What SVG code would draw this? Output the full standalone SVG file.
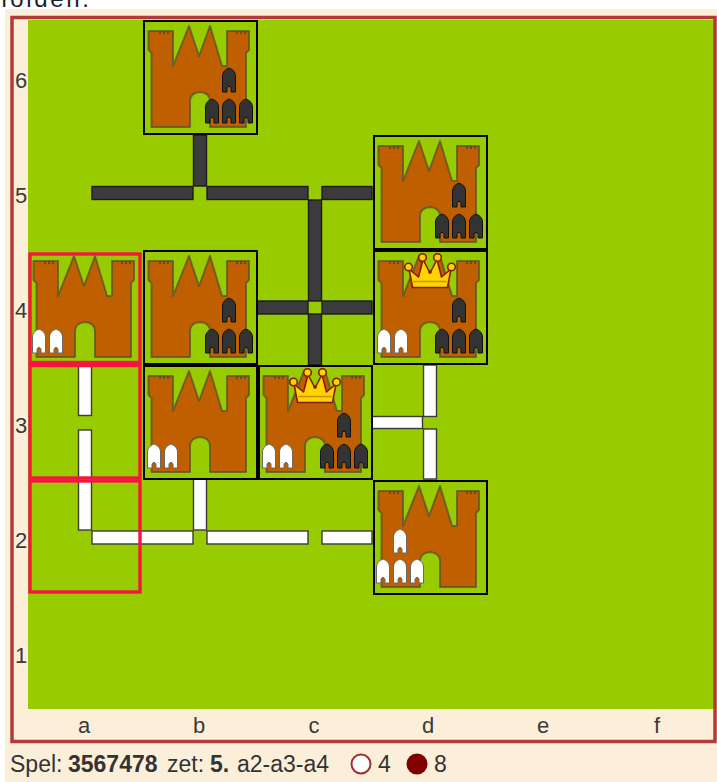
<svg xmlns="http://www.w3.org/2000/svg" xmlns:xlink="http://www.w3.org/1999/xlink" width="717" height="782" viewBox="0 0 717 782">
<defs>
<style>
.lbl{font-family:"Liberation Sans",Arial,sans-serif;font-size:22px;fill:#3a3a3a;text-anchor:middle}
.info{font-family:"Liberation Sans",Arial,sans-serif;font-size:23px;fill:#333}
.b{font-weight:bold}
.box{fill:none;stroke:#000;stroke-width:2}
.sel{fill:none;stroke:#F5163F;stroke-width:3.4}
.wd{fill:#3b3b3b;stroke:#1c1c1c;stroke-width:1.4}
.ww{fill:#fff;stroke:#3a3a3a;stroke-width:1.4}
.castle{fill:#BF5F00;stroke:#5a5030;stroke-opacity:.75;stroke-width:2;stroke-linejoin:round}
.sb{fill:#333;stroke:#111;stroke-width:1}
.sw{fill:#fff;stroke:#6a6a6a;stroke-width:1}
.crown{fill:#FFD500;stroke:#8B1A00;stroke-width:1.6;stroke-linejoin:round}
</style>
<g id="castle">
<path class="castle" d="M5.5,11 L30,11 L30,46 L46,6 L56,36 L67,6 L79,46 L84,46 L84,11 L106,11 L106,30 L103,33 L103,107 L67,107 L67,81 Q67,73 57,72 Q47,73 47,81 L47,107 L8.5,107 L8.5,33 L5.5,30 Z"/>
<path d="M17,11v3M21,11v3M25,11v3M94,11v3M98,11v3M102,11v3" stroke="#5a4a2a" stroke-width="1.6"/>
</g>
<path id="sol" d="M-6.5,24 L-6.5,8 Q-6.5,2.5 0,0 Q6.5,2.5 6.5,8 L6.5,24 L2,24 L2,20 Q0,16.5 -2,20 L-2,24 Z"/>
<g id="blk4">
<use xlink:href="#sol" class="sb" x="86" y="48"/>
<use xlink:href="#sol" class="sb" x="69" y="79"/>
<use xlink:href="#sol" class="sb" x="86" y="79"/>
<use xlink:href="#sol" class="sb" x="103" y="79"/>
</g>
<g id="wht2">
<use xlink:href="#sol" class="sw" x="11" y="79"/>
<use xlink:href="#sol" class="sw" x="28" y="79"/>
</g>
<g id="wht4">
<use xlink:href="#sol" class="sw" x="27" y="49"/>
<use xlink:href="#sol" class="sw" x="10" y="79"/>
<use xlink:href="#sol" class="sw" x="27" y="79"/>
<use xlink:href="#sol" class="sw" x="44" y="79"/>
</g>
<g id="crown">
<path class="crown" d="M39.5,37.5 L36,19 L45.5,27 L50,9.5 L57,23 L64,9.5 L68.5,27 L78,19 L74.5,37.5 Z"/>
<path d="M40,31.5 L74,31.5" stroke="#D09000" stroke-width="1.6"/>
<circle class="crown" cx="35.5" cy="17" r="3.8"/>
<circle class="crown" cx="49.5" cy="7.5" r="3.8"/>
<circle class="crown" cx="64.5" cy="7.5" r="3.8"/>
<circle class="crown" cx="78.5" cy="17" r="3.8"/>
<circle cx="57" cy="22" r="1.8" fill="#8B1A00"/>
</g>
</defs>

<rect x="0" y="0" width="717" height="782" fill="#fff"/>
<text x="1" y="7" font-family="Liberation Sans, Arial, sans-serif" font-size="24" fill="#222" textLength="88">folden.</text>
<rect x="5" y="9" width="712" height="773" fill="#FCEFD9"/>
<rect x="28" y="20" width="686" height="689" fill="#99CC00"/>
<rect x="12" y="17.5" width="703" height="724" fill="none" stroke="#B23A3A" stroke-width="3.5"/>

<g id="labels">
<text class="lbl" x="21" y="88">6</text>
<text class="lbl" x="21" y="203">5</text>
<text class="lbl" x="21" y="318">4</text>
<text class="lbl" x="21" y="433">3</text>
<text class="lbl" x="21" y="548">2</text>
<text class="lbl" x="21" y="663">1</text>
<text class="lbl" x="84" y="733">a</text>
<text class="lbl" x="199" y="733">b</text>
<text class="lbl" x="314" y="733">c</text>
<text class="lbl" x="428" y="733">d</text>
<text class="lbl" x="543" y="733">e</text>
<text class="lbl" x="657" y="733">f</text>
</g>

<g id="walls">
<rect class="wd" x="193.5" y="135" width="13" height="51"/>
<rect class="wd" x="92" y="186.5" width="101" height="13"/>
<rect class="wd" x="207" y="186.5" width="101" height="13"/>
<rect class="wd" x="322" y="186.5" width="50" height="13"/>
<rect class="wd" x="308.5" y="200" width="13" height="101"/>
<rect class="wd" x="308.5" y="314" width="13" height="51"/>
<rect class="wd" x="257" y="301" width="51" height="13"/>
<rect class="wd" x="322" y="301" width="50" height="13"/>
<rect class="ww" x="78.5" y="366" width="13" height="49.5"/>
<rect class="ww" x="78.5" y="430" width="13" height="100"/>
<rect class="ww" x="92" y="531" width="101" height="13"/>
<rect class="ww" x="193.5" y="479" width="13" height="51"/>
<rect class="ww" x="207" y="531" width="101" height="13"/>
<rect class="ww" x="322" y="531" width="50" height="13"/>
<rect class="ww" x="423.5" y="365" width="13" height="51.5"/>
<rect class="ww" x="372" y="416.5" width="50.5" height="12"/>
<rect class="ww" x="423.5" y="429" width="13" height="50"/>
</g>

<g id="castle-b6" transform="translate(143,20)">
<rect class="box" x="1" y="1" width="113" height="113"/>
<use xlink:href="#castle"/><use xlink:href="#blk4"/>
</g>
<g id="castle-d5" transform="translate(373,135)">
<rect class="box" x="1" y="1" width="113" height="113"/>
<use xlink:href="#castle"/><use xlink:href="#blk4"/>
</g>
<g id="castle-a4" transform="translate(28,250)">
<use xlink:href="#castle"/><use xlink:href="#wht2"/>
</g>
<g id="castle-b4" transform="translate(143,250)">
<rect class="box" x="1" y="1" width="113" height="113"/>
<use xlink:href="#castle"/><use xlink:href="#blk4"/>
</g>
<g id="castle-d4" transform="translate(373,250)">
<rect class="box" x="1" y="1" width="113" height="113"/>
<use xlink:href="#castle"/><use xlink:href="#crown"/><use xlink:href="#wht2"/><use xlink:href="#blk4"/>
</g>
<g id="castle-b3" transform="translate(143,365)">
<rect class="box" x="1" y="1" width="113" height="113"/>
<use xlink:href="#castle"/><use xlink:href="#wht2"/>
</g>
<g id="castle-c3" transform="translate(258,365)">
<rect class="box" x="1" y="1" width="113" height="113"/>
<use xlink:href="#castle"/><use xlink:href="#crown"/><use xlink:href="#wht2"/><use xlink:href="#blk4"/>
</g>
<g id="castle-d2" transform="translate(373,480)">
<rect class="box" x="1" y="1" width="113" height="113"/>
<use xlink:href="#castle"/><use xlink:href="#wht4"/>
</g>

<g id="selection">
<rect class="sel" x="30" y="254" width="110" height="108.5"/>
<rect class="sel" x="30" y="365.5" width="110" height="112.5"/>
<rect class="sel" x="30" y="481" width="110" height="111"/>
</g>

<g id="info">
<text class="info" x="10" y="772">Spel:</text>
<text class="info b" x="68" y="772">3567478</text>
<text class="info" x="167" y="772">zet:</text>
<text class="info b" x="210" y="772">5.</text>
<text class="info" x="237" y="772">a2-a3-a4</text>
<circle cx="361" cy="764" r="9.5" fill="#fff" stroke="#A03030" stroke-width="2"/>
<text class="info" x="378" y="772">4</text>
<circle cx="417" cy="764" r="10.5" fill="#800000"/>
<text class="info" x="434" y="772">8</text>
</g>
</svg>
